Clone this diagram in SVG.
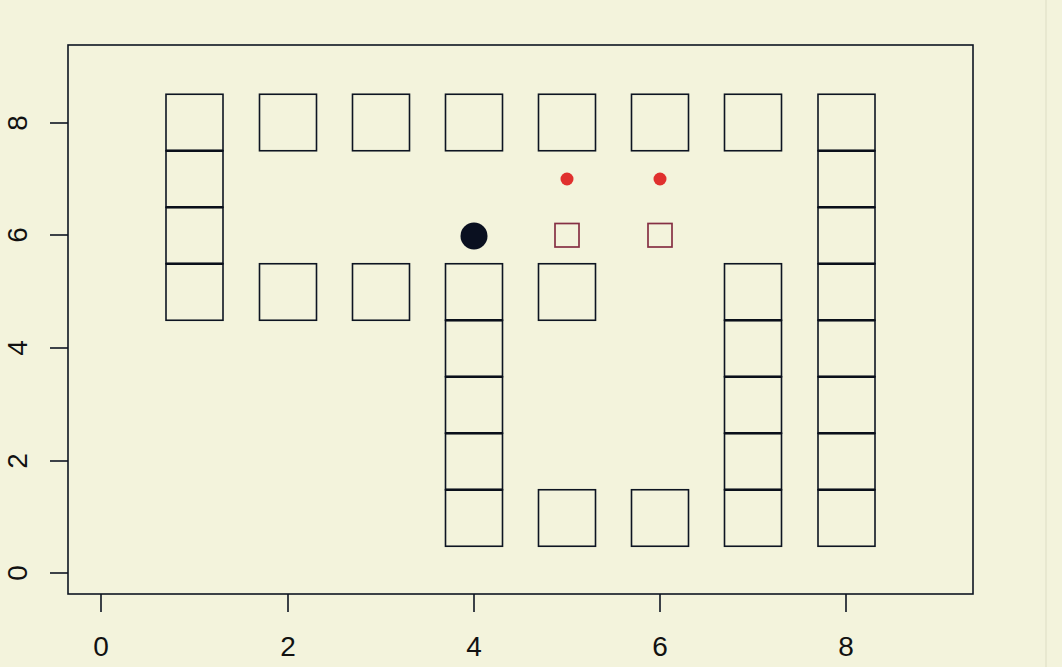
<svg xmlns="http://www.w3.org/2000/svg" width="1062" height="667" viewBox="0 0 1062 667">
<style>
.sq{fill:none;stroke:#0d1422;stroke-width:1.6}
.ax{fill:none;stroke:#0d1422;stroke-width:1.6}
.sh{fill:none;stroke:#0a0f1a;stroke-width:2.6}
.lbl{font-family:"Liberation Sans",Arial,sans-serif;font-size:28px;fill:#111}
.sm{fill:none;stroke:#852f44;stroke-width:1.7}
</style>
<defs>
<rect id="s" class="sq" x="-28.5" y="-28.25" width="57" height="56.5"/>
<line id="e" class="sh" x1="-28.5" y1="0" x2="28.5" y2="0"/>
</defs>
<rect x="0" y="0" width="1062" height="667" fill="#f3f3dc"/>
<line x1="1046" y1="0" x2="1046" y2="667" stroke="#e4e4cc" stroke-width="1.5"/>
<g id="axes">
<rect class="ax" x="68" y="45" width="905" height="549"/>
<g class="ax">
<line x1="101" y1="594" x2="101" y2="612"/>
<line x1="288" y1="594" x2="288" y2="612"/>
<line x1="474" y1="594" x2="474" y2="612"/>
<line x1="660" y1="594" x2="660" y2="612"/>
<line x1="846" y1="594" x2="846" y2="612"/>
<line x1="50" y1="573" x2="68" y2="573"/>
<line x1="50" y1="461" x2="68" y2="461"/>
<line x1="50" y1="348" x2="68" y2="348"/>
<line x1="50" y1="235" x2="68" y2="235"/>
<line x1="50" y1="123" x2="68" y2="123"/>
</g>
<g class="lbl" text-anchor="middle">
<text x="101" y="656">0</text>
<text x="288" y="656">2</text>
<text x="474" y="656">4</text>
<text x="660" y="656">6</text>
<text x="846" y="656">8</text>
<text transform="translate(27,573) rotate(-90)">0</text>
<text transform="translate(27,461) rotate(-90)">2</text>
<text transform="translate(27,348) rotate(-90)">4</text>
<text transform="translate(27,235) rotate(-90)">6</text>
<text transform="translate(27,123) rotate(-90)">8</text>
</g>
</g>
<g id="squares">
<use href="#s" x="194.5" y="122.5"/><use href="#s" x="194.5" y="179"/><use href="#s" x="194.5" y="235.5"/><use href="#s" x="194.5" y="292"/>
<use href="#s" x="288" y="122.5"/><use href="#s" x="381" y="122.5"/><use href="#s" x="474" y="122.5"/><use href="#s" x="567" y="122.5"/><use href="#s" x="660" y="122.5"/><use href="#s" x="753" y="122.5"/>
<use href="#s" x="288" y="292"/><use href="#s" x="381" y="292"/><use href="#s" x="567" y="292"/>
<use href="#s" x="474" y="292"/><use href="#s" x="474" y="348.5"/><use href="#s" x="474" y="405"/><use href="#s" x="474" y="461.5"/><use href="#s" x="474" y="518"/>
<use href="#s" x="567" y="518"/><use href="#s" x="660" y="518"/>
<use href="#s" x="753" y="292"/><use href="#s" x="753" y="348.5"/><use href="#s" x="753" y="405"/><use href="#s" x="753" y="461.5"/><use href="#s" x="753" y="518"/>
<use href="#s" x="846.5" y="122.5"/><use href="#s" x="846.5" y="179"/><use href="#s" x="846.5" y="235.5"/><use href="#s" x="846.5" y="292"/><use href="#s" x="846.5" y="348.5"/><use href="#s" x="846.5" y="405"/><use href="#s" x="846.5" y="461.5"/><use href="#s" x="846.5" y="518"/>
</g>
<g id="shared-edges">
<use href="#e" x="194.5" y="150.75"/><use href="#e" x="194.5" y="207.25"/><use href="#e" x="194.5" y="263.75"/>
<use href="#e" x="474" y="320.25"/><use href="#e" x="474" y="376.75"/><use href="#e" x="474" y="433.25"/><use href="#e" x="474" y="489.75"/>
<use href="#e" x="753" y="320.25"/><use href="#e" x="753" y="376.75"/><use href="#e" x="753" y="433.25"/><use href="#e" x="753" y="489.75"/>
<use href="#e" x="846.5" y="150.75"/><use href="#e" x="846.5" y="207.25"/><use href="#e" x="846.5" y="263.75"/><use href="#e" x="846.5" y="320.25"/><use href="#e" x="846.5" y="376.75"/><use href="#e" x="846.5" y="433.25"/><use href="#e" x="846.5" y="489.75"/>
</g>
<g id="markers">
<rect class="sm" x="555" y="223.5" width="24" height="23.5"/>
<rect class="sm" x="648" y="223.5" width="24" height="23.5"/>
<circle cx="567" cy="179" r="6.5" fill="#e0302e"/>
<circle cx="660" cy="179" r="6.5" fill="#e0302e"/>
<circle cx="474" cy="236" r="13.5" fill="#0a1020"/>
</g>
</svg>
